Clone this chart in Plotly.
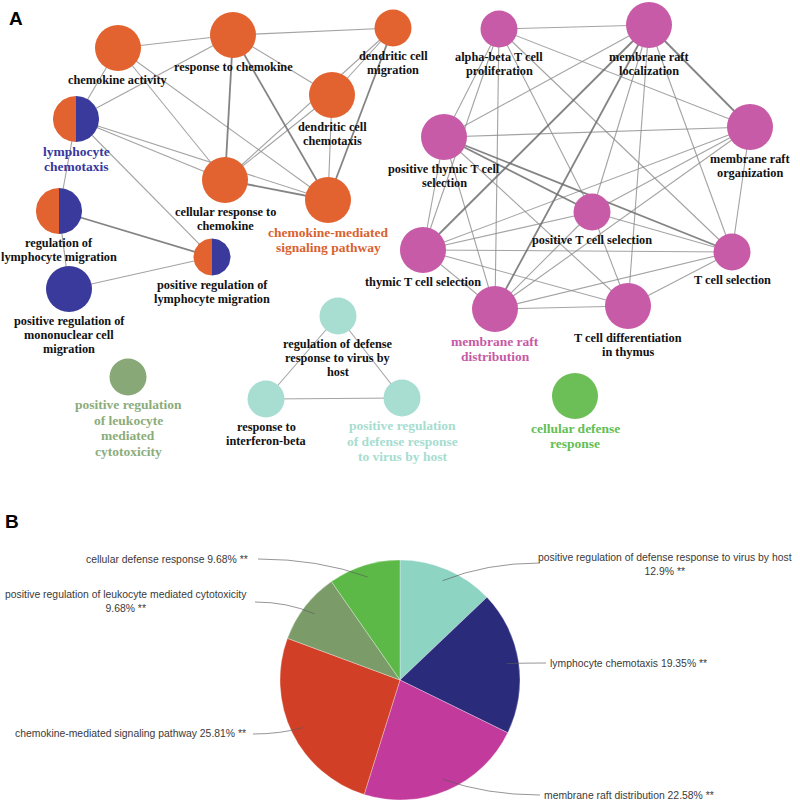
import numpy as np
import plotly.graph_objects as go

W, H = 800, 803

# ---------------- Panel A: network data ----------------
node_labels = [
    "chemokine activity",
    "response to chemokine",
    "dendritic cell\nmigration",
    "dendritic cell\nchemotaxis",
    "lymphocyte\nchemotaxis",
    "cellular response to\nchemokine",
    "chemokine-mediated\nsignaling pathway",
    "regulation of\nlymphocyte migration",
    "positive regulation of\nlymphocyte migration",
    "positive regulation of\nmononuclear cell\nmigration",
    "positive regulation\nof leukocyte\nmediated\ncytotoxicity",
    "regulation of defense\nresponse to virus by\nhost",
    "response to\ninterferon-beta",
    "positive regulation\nof defense response\nto virus by host",
    "alpha-beta T cell\nproliferation",
    "membrane raft\nlocalization",
    "membrane raft\norganization",
    "positive thymic T cell\nselection",
    "positive T cell selection",
    "thymic T cell selection",
    "T cell selection",
    "membrane raft\ndistribution",
    "T cell differentiation\nin thymus",
    "cellular defense\nresponse",
]
node_group = [
    "orange", "orange", "orange", "orange", "split", "orange", "orange",
    "split", "split", "blue", "olive", "teal", "teal", "teal",
    "pink", "pink", "pink", "pink", "pink", "pink", "pink", "pink", "pink",
    "green",
]
node_x = [118, 233, 393, 332, 76, 225, 328, 59, 212, 69, 128, 338, 266, 402,
          499, 649, 750, 444, 592, 423, 732, 495, 628, 575]
node_y = [48, 35, 28, 95, 119, 180, 200, 211, 257, 289, 377, 316, 399, 398,
          29, 25, 127, 137, 212, 250, 252, 309, 306, 396]
node_large = [1, 1, 0, 1, 1, 1, 1, 1, 0, 1, 0, 0, 0, 0,
              0, 1, 1, 1, 0, 1, 0, 1, 1, 1]
group_leaders = [4, 6, 10, 13, 21, 23]

edges = [
    (0, 1), (0, 4), (0, 5), (0, 6), (1, 2), (1, 3), (1, 5), (1, 6), (1, 4),
    (2, 3), (2, 5), (2, 6), (3, 5), (3, 6), (4, 5), (4, 6), (4, 7), (4, 8),
    (5, 6), (7, 8), (7, 9), (9, 8),
    (11, 12), (11, 13), (12, 13),
]
pink = [14, 15, 16, 17, 18, 19, 20, 21, 22]
missing_pink = {(14, 22), (16, 22)}
for i in range(len(pink)):
    for j in range(i + 1, len(pink)):
        if (pink[i], pink[j]) not in missing_pink:
            edges.append((pink[i], pink[j]))
strong_edges = {(1, 6), (2, 6), (7, 8), (17, 18), (17, 20), (19, 18), (15, 21),
                (15, 16), (21, 16), (19, 17), (1, 5), (5, 6), (15, 19)}

# ---------------- Panel B: pie data ----------------
pie_labels = [
    "positive regulation of defense response to virus by host",
    "lymphocyte chemotaxis",
    "membrane raft distribution",
    "chemokine-mediated signaling pathway",
    "positive regulation of leukocyte mediated cytotoxicity",
    "cellular defense response",
]
pie_values = [12.9, 19.35, 22.58, 25.81, 9.68, 9.68]
pie_colors = ["#8ED4C2", "#2A2C7B", "#C23A9C", "#D23F27", "#7B9C69", "#5CB948"]

# ---------------- styles ----------------
group_color = {"orange": "#E2632F", "blue": "#3A3A9C", "pink": "#C85BA7",
               "teal": "#A8DED2", "olive": "#88A977", "green": "#6CBF56"}
label_color = {"orange": "#D9622F", "split": "#38389E", "blue": "#38389E",
               "pink": "#C65AA6", "teal": "#A6DDD0", "olive": "#8CAC7A",
               "green": "#63BE52"}

fig = go.Figure()

# edges
for strong in (False, True):
    ex, ey = [], []
    for a, b in edges:
        if ((a, b) in strong_edges) == strong:
            ex += [node_x[a], node_x[b], None]
            ey += [node_y[a], node_y[b], None]
    fig.add_trace(go.Scatter(
        x=ex, y=ey, mode="lines", hoverinfo="skip", showlegend=False,
        line=dict(color="rgba(110,110,110,0.85)" if strong else "rgba(140,140,140,0.8)",
                  width=1.8 if strong else 1.1)))

# full nodes
for g in ["orange", "blue", "pink", "teal", "olive", "green"]:
    idx = [i for i, gg in enumerate(node_group) if gg == g]
    fig.add_trace(go.Scatter(
        x=[node_x[i] for i in idx], y=[node_y[i] for i in idx], mode="markers",
        hovertext=[node_labels[i].replace("\n", " ") for i in idx], hoverinfo="text",
        showlegend=False,
        marker=dict(color=group_color[g], line=dict(width=0),
                    size=[46 if node_large[i] else 37 for i in idx], opacity=1)))

# split nodes (half orange / half blue)
for i, g in enumerate(node_group):
    if g != "split":
        continue
    r = (46 if node_large[i] else 37) / 2
    for side, col in ((-1, group_color["orange"]), (1, group_color["blue"])):
        t = np.linspace(-np.pi / 2, np.pi / 2, 40)
        px = node_x[i] + side * r * np.cos(t)
        py = node_y[i] + r * np.sin(t)
        fig.add_trace(go.Scatter(
            x=list(px) + [px[0]], y=list(py) + [py[0]], mode="lines", fill="toself",
            fillcolor=col, line=dict(width=0, color=col), hoverinfo="skip",
            showlegend=False))

annotations = []
for i, lab in enumerate(node_labels):
    r = (46 if node_large[i] else 37) / 2
    lead = i in group_leaders
    col = label_color[node_group[i]] if lead else "#111111"
    fs = 13.5 if lead else 12.3
    lh = 15.5 if lead else 14
    y0 = node_y[i] + r + 9
    for k, line in enumerate(lab.split("\n")):
        annotations.append(dict(
            x=node_x[i], y=y0 + k * lh, xref="x", yref="y", text=f"<b>{line}</b>",
            showarrow=False, xanchor="center", yanchor="middle",
            font=dict(family="Liberation Serif", size=fs, color=col)))

# panel letters
annotations.append(dict(x=7, y=18, xref="x", yref="y", text="<b>A</b>", showarrow=False,
                        xanchor="left", yanchor="middle",
                        font=dict(family="Liberation Sans", size=19, color="#000")))
annotations.append(dict(x=3, y=521, xref="x", yref="y", text="<b>B</b>", showarrow=False,
                        xanchor="left", yanchor="middle",
                        font=dict(family="Liberation Sans", size=19, color="#000")))

# pie
cx, cy, R = 400, 680, 120
fig.add_trace(go.Pie(
    labels=pie_labels, values=pie_values, sort=False, direction="clockwise",
    rotation=0, textinfo="none", showlegend=False,
    marker=dict(colors=pie_colors, line=dict(color="rgba(255,255,255,0.5)", width=0.6)),
    domain=dict(x=[(cx - R) / W, (cx + R) / W],
                y=[(H - cy - R) / H, (H - cy + R) / H])))

# pie labels with leader lines
label_pos = [  # (text x, text y, anchor, leader start x, leader start y)
    (665, 557, "center", 540, 563),
    (548, 663, "left", 546, 663),
    (542, 795, "left", 540, 795),
    (248, 733, "right", 253, 734),
    (126, 594, "center", 255, 602),
    (250, 559, "right", 258, 559),
]
two_line = {0, 4}
shapes = []
cum = np.cumsum([0] + pie_values)
tot = cum[-1]
for k, lab in enumerate(pie_labels):
    pct = f"{pie_values[k]:g}% **"
    tx, ty, anc, lx, ly = label_pos[k]
    if k in two_line:
        txt = f"{lab}<br>{pct}"
        yy = ty + 7.5
    else:
        txt = f"{lab} {pct}"
        yy = ty
    annotations.append(dict(
        x=tx, y=yy, xref="x", yref="y", text=txt, showarrow=False,
        xanchor=anc, yanchor="middle", align="center",
        font=dict(family="Liberation Sans", size=10.4, color="#3a3a3a")))
    mid = (cum[k] + cum[k + 1]) / 2 / tot * 2 * np.pi
    sx = cx + 0.9 * R * np.sin(mid)
    sy = cy - 0.9 * R * np.cos(mid)
    qx = lx + (sx - lx) * 0.55
    shapes.append(dict(type="path", xref="x", yref="y",
                       path=f"M {lx},{ly} Q {qx},{ly} {sx:.1f},{sy:.1f}",
                       line=dict(color="rgba(90,90,90,0.8)", width=0.8)))

fig.update_layout(
    width=W, height=H, margin=dict(l=0, r=0, t=0, b=0),
    paper_bgcolor="white", plot_bgcolor="white",
    xaxis=dict(range=[0, W], visible=False, domain=[0, 1], fixedrange=True),
    yaxis=dict(range=[H, 0], visible=False, domain=[0, 1], fixedrange=True),
    annotations=annotations, shapes=shapes, showlegend=False,
)

fig.write_html(
    "out.html",
    config={"displayModeBar": False},
    post_script="document.body.style.margin='0';document.body.style.padding='0';",
)
